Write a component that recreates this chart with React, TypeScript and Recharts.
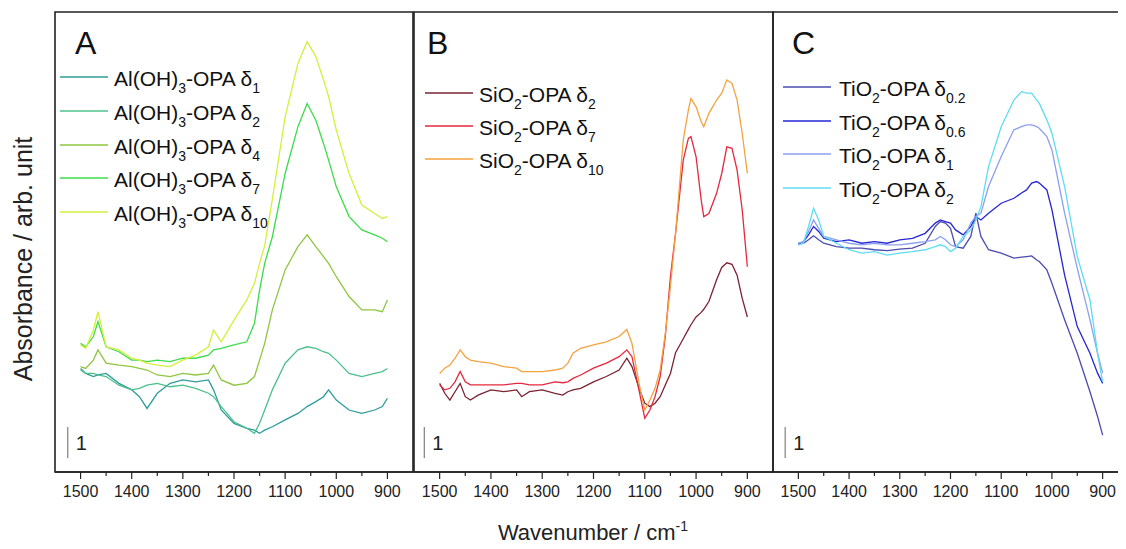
import React from 'react';
import { LineChart, Line, XAxis, YAxis, ReferenceLine, ReferenceArea } from 'recharts';

const FONT = '"Liberation Sans", Arial, sans-serif';

// shared axis settings: wavenumber runs right-to-left, y in absorbance units (1 = scale bar)
const X_DOMAIN: [number, number] = [850, 1550];
const Y_DOMAIN: [number, number] = [0, 14.84];
const xTicks = [900, 950, 1000, 1050, 1100, 1150, 1200, 1250, 1300, 1350, 1400, 1450, 1500];

// ---- panel A: Al(OH)3-OPA ----
const wnA = [1500, 1490, 1475, 1466, 1450, 1425, 1400, 1385, 1370, 1350, 1325, 1300, 1275, 1250, 1240, 1225, 1200, 1175, 1160, 1150, 1140, 1125, 1100, 1075, 1057, 1040, 1025, 1015, 1000, 975, 950, 925, 910, 900];
const alD1 = [3.34, 3.18, 3.08, 3.13, 3.18, 2.86, 2.65, 2.43, 2.05, 2.54, 2.86, 2.97, 2.91, 2.97, 2.65, 2.0, 1.57, 1.41, 1.35, 1.25, 1.35, 1.46, 1.68, 1.89, 2.11, 2.27, 2.43, 2.65, 2.32, 2.0, 1.89, 2.0, 2.11, 2.38];
const alD2 = [3.29, 3.18, 3.18, 3.13, 3.08, 2.8, 2.65, 2.7, 2.8, 2.86, 2.75, 2.8, 2.7, 2.54, 2.43, 2.11, 1.62, 1.41, 1.25, 1.57, 2.0, 2.65, 3.51, 3.94, 4.04, 3.99, 3.88, 3.83, 3.61, 3.18, 3.08, 3.18, 3.24, 3.34];
const alD4 = [3.4, 3.34, 3.61, 3.94, 3.51, 3.45, 3.4, 3.34, 3.29, 3.13, 3.08, 3.18, 3.13, 3.18, 3.45, 2.97, 2.8, 2.86, 3.08, 3.61, 4.15, 5.23, 6.52, 7.27, 7.65, 7.27, 6.95, 6.73, 6.3, 5.66, 5.23, 5.23, 5.17, 5.55];
const alD7 = [4.15, 4.04, 4.37, 4.85, 4.04, 3.88, 3.61, 3.61, 3.56, 3.61, 3.56, 3.67, 3.67, 3.77, 3.94, 3.99, 4.1, 4.2, 4.8, 5.87, 6.73, 7.59, 9.63, 11.14, 11.89, 11.35, 10.6, 10.06, 9.2, 8.24, 7.81, 7.65, 7.54, 7.43];
const alD10 = [4.1, 3.99, 4.58, 5.17, 4.04, 3.94, 3.67, 3.61, 3.51, 3.45, 3.4, 3.61, 3.77, 4.04, 4.58, 4.2, 4.9, 5.55, 6.09, 6.73, 7.3, 8.8, 11.46, 13.18, 13.88, 13.4, 12.65, 12.11, 11.03, 9.63, 8.61, 8.34, 8.18, 8.24];

// ---- panel B: SiO2-OPA ----
const wnB = [1500, 1490, 1480, 1470, 1460, 1450, 1440, 1425, 1400, 1375, 1350, 1340, 1325, 1300, 1275, 1260, 1250, 1240, 1225, 1200, 1175, 1150, 1135, 1125, 1110, 1100, 1090, 1080, 1070, 1060, 1050, 1040, 1025, 1015, 1010, 1000, 990, 985, 975, 960, 950, 940, 930, 920, 910, 900];
const siD2 = [2.86, 2.54, 2.32, 2.59, 2.86, 2.43, 2.32, 2.48, 2.65, 2.59, 2.65, 2.43, 2.59, 2.65, 2.54, 2.48, 2.59, 2.65, 2.7, 2.91, 3.08, 3.29, 3.67, 3.4, 2.65, 2.22, 2.11, 2.22, 2.43, 2.81, 3.18, 3.85, 4.3, 4.6, 4.75, 5.0, 5.15, 5.25, 5.5, 6.2, 6.6, 6.75, 6.7, 6.35, 5.6, 5.0];
const siD7 = [2.81, 2.65, 2.7, 2.91, 3.24, 2.91, 2.81, 2.81, 2.81, 2.81, 2.86, 2.86, 2.81, 2.81, 2.91, 2.88, 2.91, 3.02, 3.13, 3.35, 3.51, 3.72, 3.94, 3.72, 2.54, 1.73, 2.0, 2.43, 3.08, 4.37, 6.3, 7.7, 10.06, 10.76, 10.82, 10.17, 8.77, 8.24, 8.34, 8.99, 9.63, 10.49, 10.44, 9.74, 8.45, 6.62];
const siD10 = [3.18, 3.35, 3.45, 3.67, 3.94, 3.72, 3.61, 3.56, 3.51, 3.4, 3.35, 3.24, 3.24, 3.24, 3.29, 3.35, 3.51, 3.83, 3.99, 4.1, 4.2, 4.37, 4.6, 4.15, 2.75, 2.0, 2.32, 2.7, 3.29, 4.47, 5.98, 7.7, 10.71, 11.68, 12.05, 11.78, 11.3, 11.14, 11.57, 12.0, 12.22, 12.65, 12.54, 12.0, 10.92, 9.63];

// ---- panel C: TiO2-OPA ----
const wnC = [1500, 1490, 1480, 1470, 1460, 1450, 1425, 1400, 1375, 1350, 1325, 1300, 1275, 1250, 1230, 1220, 1210, 1200, 1190, 1175, 1160, 1150, 1140, 1125, 1100, 1075, 1060, 1050, 1040, 1030, 1025, 1010, 1000, 975, 950, 925, 910, 900];
const tiD02 = [7.38, 7.38, 7.49, 7.62, 7.49, 7.38, 7.27, 7.22, 7.22, 7.17, 7.14, 7.19, 7.22, 7.38, 7.92, 8.08, 8.03, 7.86, 7.27, 7.22, 7.6, 8.35, 7.6, 7.17, 7.06, 6.9, 6.93, 6.95, 6.97, 6.84, 6.79, 6.52, 6.09, 4.91, 3.83, 2.59, 1.79, 1.19];
const tiD06 = [7.33, 7.43, 7.65, 7.92, 7.76, 7.54, 7.43, 7.49, 7.38, 7.43, 7.38, 7.49, 7.54, 7.7, 8.03, 8.13, 8.08, 8.03, 7.81, 7.65, 7.92, 8.24, 8.13, 8.35, 8.67, 8.83, 9.0, 9.1, 9.32, 9.37, 9.32, 9.1, 8.46, 6.35, 4.69, 3.83, 3.19, 2.86];
const tiD1 = [7.38, 7.43, 7.76, 8.13, 7.86, 7.6, 7.49, 7.38, 7.33, 7.38, 7.33, 7.33, 7.38, 7.43, 7.49, 7.6, 7.49, 7.33, 7.27, 7.49, 8.03, 8.24, 8.35, 9.21, 10.18, 11.04, 11.14, 11.2, 11.2, 11.14, 11.09, 10.82, 10.39, 8.35, 6.57, 4.91, 3.83, 3.19];
const tiD2 = [7.33, 7.38, 7.92, 8.51, 8.13, 7.6, 7.38, 7.17, 7.06, 7.11, 7.0, 7.06, 7.11, 7.17, 7.27, 7.33, 7.27, 7.11, 7.22, 7.6, 7.81, 8.13, 8.56, 9.85, 11.14, 12.0, 12.27, 12.22, 12.22, 12.0, 11.9, 11.36, 10.93, 9.21, 6.95, 5.55, 3.83, 2.91];

type Series = { key: string; values: number[]; color: string; main: string; sub: string };

const seriesA: Series[] = [
  { key: 'd1', values: alD1, color: '#2f9c9a', main: 'Al(OH)', sub: '1' },
  { key: 'd2', values: alD2, color: '#4cc08c', main: 'Al(OH)', sub: '2' },
  { key: 'd4', values: alD4, color: '#8ec641', main: 'Al(OH)', sub: '4' },
  { key: 'd7', values: alD7, color: '#3ddc4a', main: 'Al(OH)', sub: '7' },
  { key: 'd10', values: alD10, color: '#d5ef3b', main: 'Al(OH)', sub: '10' },
];
const seriesB: Series[] = [
  { key: 'd2', values: siD2, color: '#7b2233', main: 'SiO', sub: '2' },
  { key: 'd7', values: siD7, color: '#e6283f', main: 'SiO', sub: '7' },
  { key: 'd10', values: siD10, color: '#f4a23e', main: 'SiO', sub: '10' },
];
const seriesC: Series[] = [
  { key: 'd02', values: tiD02, color: '#4b4bb0', main: 'TiO', sub: '0.2' },
  { key: 'd06', values: tiD06, color: '#2626d4', main: 'TiO', sub: '0.6' },
  { key: 'd1', values: tiD1, color: '#8d9ff0', main: 'TiO', sub: '1' },
  { key: 'd2', values: tiD2, color: '#5fdcf2', main: 'TiO', sub: '2' },
];

const buildRows = (wn: number[], series: Series[]) =>
  wn.map((w, i) => {
    const row: Record<string, number> = { w };
    series.forEach((s) => (row[s.key] = s.values[i]));
    return row;
  });

const WaveTick = (props: any) => {
  const { x, y, payload } = props;
  const major = payload.value % 100 === 0;
  return (
    <g>
      <line x1={x} x2={x} y1={y} y2={y + (major ? 7 : 4)} stroke="#222" strokeWidth={1.2} />
      {major && (
        <text x={x} y={y + 25} textAnchor="middle" fontSize={16} fill="#222" fontFamily={FONT}>
          {payload.value}
        </text>
      )}
    </g>
  );
};

interface PanelProps {
  left: number;
  width: number;
  wn: number[];
  series: Series[];
  barX: number;
}

const Panel: React.FC<PanelProps> = ({ left, width, wn, series, barX }) => {
  const rows = buildRows(wn, series);
  return (
    <div style={{ position: 'absolute', left: left - 2, top: 0 }}>
      <LineChart width={width + 4} height={549} data={rows} margin={{ top: 12, right: 2, left: 2, bottom: 47 }}>
        <XAxis
          dataKey="w"
          type="number"
          domain={X_DOMAIN}
          reversed
          allowDataOverflow
          ticks={xTicks}
          interval={0}
          tick={WaveTick}
          tickLine={false}
          tickSize={0}
          tickMargin={0}
          height={30}
          axisLine={{ stroke: '#222', strokeWidth: 1.5 }}
        />
        <YAxis domain={Y_DOMAIN} allowDataOverflow hide width={0} />
        {/* panel frame */}
        <ReferenceArea
          x1={X_DOMAIN[0]}
          x2={X_DOMAIN[1]}
          y1={Y_DOMAIN[0]}
          y2={Y_DOMAIN[1]}
          fill="none"
          fillOpacity={0}
          stroke="#222"
          strokeWidth={1.6}
          ifOverflow="visible"
        />
        <ReferenceLine
          segment={[
            { x: barX, y: 0.45 },
            { x: barX, y: 1.45 },
          ]}
          stroke="#666"
          strokeWidth={1}
          label={{ value: '1', position: 'right', offset: 8, fontSize: 20, fill: '#222', fontFamily: FONT }}
        />
        {series.map((s) => (
          <Line
            key={s.key}
            dataKey={s.key}
            stroke={s.color}
            strokeWidth={1.3}
            dot={false}
            type="linear"
            isAnimationActive={false}
          />
        ))}
      </LineChart>
    </div>
  );
};

const LegendBlock = ({ series, lineX, textX, rowY, suffix }: { series: Series[]; lineX: number; textX: number; rowY: number[]; suffix: string }) => (
  <g>
    {series.map((s, i) => (
      <g key={s.key}>
        <line x1={lineX} x2={lineX + 48} y1={rowY[i]} y2={rowY[i]} stroke={s.color} strokeWidth={1.5} />
        <text x={textX} y={rowY[i] + 9} fontSize={21} fill="#111">
          {s.main}
          <tspan fontSize={14} dy={7}>
            {suffix}
          </tspan>
          <tspan dy={-7}>-OPA δ</tspan>
          <tspan fontSize={14} dy={7}>
            {s.sub}
          </tspan>
        </text>
      </g>
    ))}
  </g>
);

export default function App() {
  return (
    <div
      style={{
        position: 'relative',
        width: 1126,
        height: 549,
        margin: '-8px 0 0 -8px',
        overflow: 'hidden',
        background: '#fff',
        fontFamily: FONT,
      }}
    >
      <Panel left={55} width={358} wn={wnA} series={seriesA} barX={1525} />
      <Panel left={414} width={359} wn={wnB} series={seriesB} barX={1530} />
      <Panel left={773} width={355} wn={wnC} series={seriesC} barX={1526} />

      <svg width={1126} height={549} style={{ position: 'absolute', left: 0, top: 0, pointerEvents: 'none' }} fontFamily={FONT}>
        <text x={75} y={54} fontSize={32} fill="#111">A</text>
        <text x={427} y={54} fontSize={32} fill="#111">B</text>
        <text x={792} y={54} fontSize={32} fill="#111">C</text>

        <LegendBlock series={seriesA} lineX={60} textX={114} rowY={[77, 111, 145, 178, 212]} suffix="3" />
        <LegendBlock series={seriesB} lineX={425} textX={479} rowY={[93, 126, 159]} suffix="2" />
        <LegendBlock series={seriesC} lineX={783} textX={839} rowY={[87, 121, 154, 188]} suffix="2" />

        <text x={32} y={259} fontSize={25} fill="#222" textAnchor="middle" transform="rotate(-90 32 259)">
          Absorbance / arb. unit
        </text>
        <text x={593} y={540} fontSize={22} fill="#222" textAnchor="middle">
          Wavenumber / cm
          <tspan fontSize={14} dy={-9}>-1</tspan>
        </text>
      </svg>
    </div>
  );
}
